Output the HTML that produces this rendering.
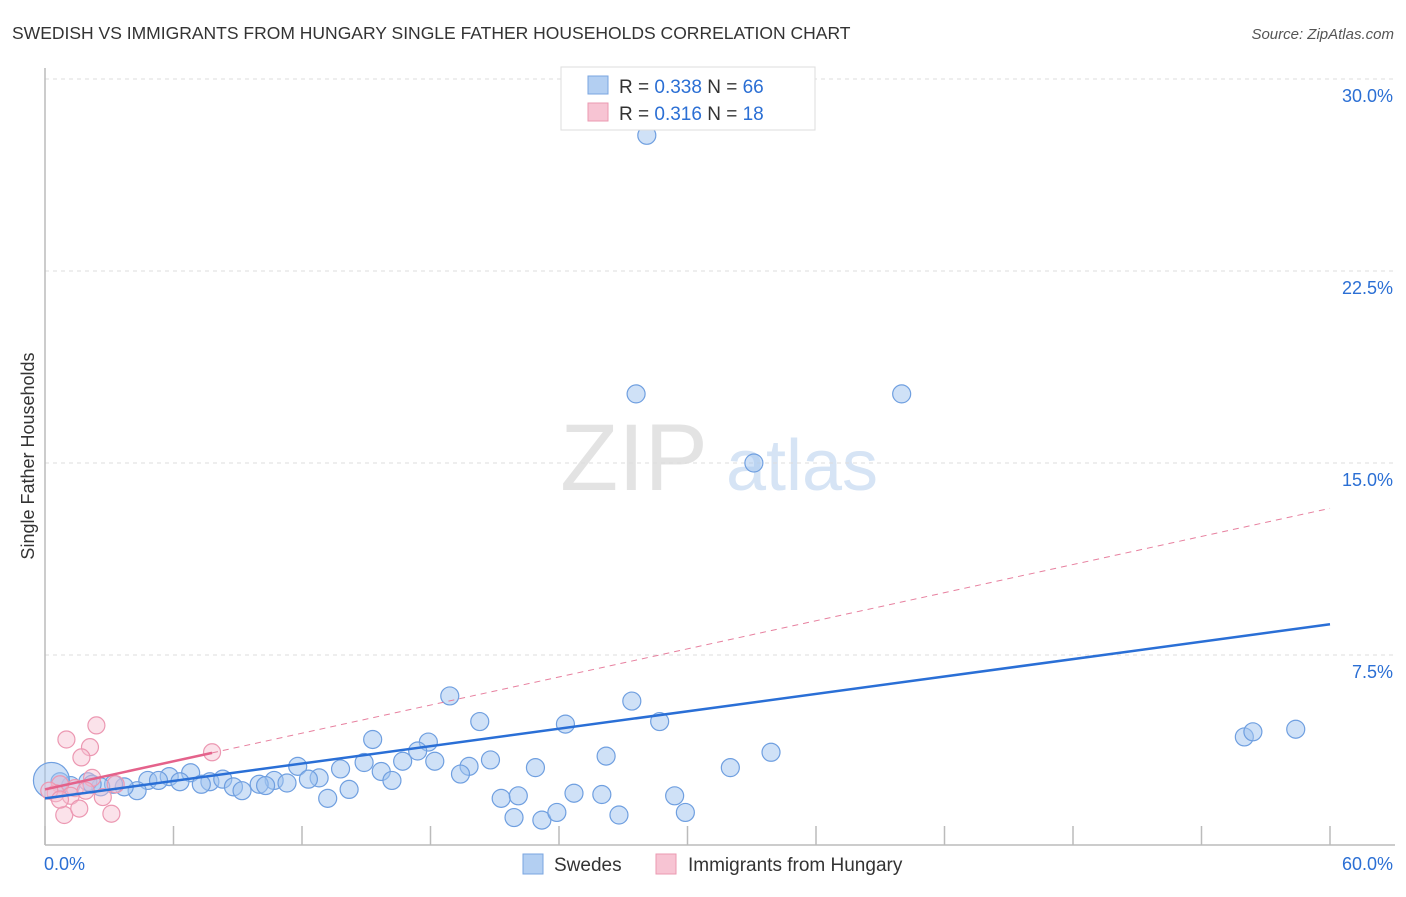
<!DOCTYPE html>
<html><head><meta charset="utf-8"><style>
body{margin:0;background:#fff;font-family:"Liberation Sans",sans-serif}
svg text{font-family:"Liberation Sans",sans-serif}
</style></head><body>
<svg width="1406" height="892" xmlns="http://www.w3.org/2000/svg">
<text x="12" y="39" font-size="17.5" fill="#333">SWEDISH VS IMMIGRANTS FROM HUNGARY SINGLE FATHER HOUSEHOLDS CORRELATION CHART</text>
<text x="1394" y="39" font-size="15" fill="#555" font-style="italic" text-anchor="end">Source: ZipAtlas.com</text>
<text x="34" y="456" font-size="18" fill="#333" text-anchor="middle" transform="rotate(-90 34 456)">Single Father Households</text>
<g>
<text x="634" y="490" font-size="95" fill="#e3e3e3" font-family="Liberation Serif" text-anchor="middle">ZIP</text>
<text x="802" y="490" font-size="72" fill="#d6e4f5" text-anchor="middle">atlas</text>
</g>
<g id="grid"></g>
<g id="axes"></g>
<g id="marks"></g>
<g>
<rect x="561" y="67" width="254" height="63" fill="#fff" stroke="#ddd"/>
<rect x="588" y="76" width="20" height="18" fill="#b3cff2" stroke="#7aa5e0"/>
<rect x="588" y="103" width="20" height="18" fill="#f7c4d3" stroke="#eb9ab2"/>
<text x="619" y="93" font-size="19" fill="#333">R = <tspan fill="#2b6fd4">0.338</tspan>   N = <tspan fill="#2b6fd4">66</tspan></text>
<text x="619" y="120" font-size="19" fill="#333">R = <tspan fill="#2b6fd4"> 0.316</tspan>   N = <tspan fill="#2b6fd4"> 18</tspan></text>
</g>
<g>
<rect x="523" y="854" width="20" height="20" fill="#b3cff2" stroke="#7aa5e0"/>
<text x="554" y="871" font-size="19" fill="#333">Swedes</text>
<rect x="656" y="854" width="20" height="20" fill="#f7c4d3" stroke="#eb9ab2"/>
<text x="688" y="871" font-size="19" fill="#333">Immigrants from Hungary</text>
</g>
</svg>
<script>
const yTicks=[7.5,15,22.5,30];
const yTickLabels=["7.5%","15.0%","22.5%","30.0%"];
const xTicks=[0,6,12,18,24,30,36,42,48,54,60];
const swedesX=[28.1,27.6,40.0,33.1,18.9,20.3,27.4,24.3,28.7,56.0,56.4,58.4,15.3,17.9,17.4,20.8,18.2,19.8,16.7,14.9,11.8,26.2,33.9,32.0,22.9,13.8,15.7,19.4,16.2,12.8,12.3,10.7,10.0,6.8,5.8,4.8,5.3,6.3,7.7,8.3,7.3,8.8,9.2,10.3,11.3,14.2,13.2,21.3,22.1,24.7,26.0,29.4,21.9,23.2,23.9,26.8,29.9,4.3,3.7,3.2,2.6,2.0,1.2,0.7,0.3,2.2];
const swedesY=[27.8,17.7,17.7,15.0,5.9,4.9,5.7,4.8,4.9,4.3,4.5,4.6,4.2,4.1,3.75,3.4,3.35,3.15,3.35,3.3,3.15,3.55,3.7,3.1,3.1,3.05,2.95,2.85,2.6,2.7,2.65,2.6,2.45,2.9,2.75,2.6,2.6,2.55,2.55,2.65,2.45,2.35,2.2,2.4,2.5,2.25,1.9,1.9,2.0,2.1,2.05,2.0,1.15,1.05,1.35,1.25,1.35,2.2,2.35,2.45,2.35,2.55,2.4,2.55,2.6,2.45];
const hungX=[2.4,1.0,2.1,1.7,7.8,2.2,3.3,1.4,0.7,0.5,1.2,2.7,0.9,1.6,3.1,0.2,1.9,0.7];
const hungY=[4.75,4.2,3.9,3.5,3.7,2.7,2.45,2.3,2.45,2.1,2.0,1.95,1.25,1.5,1.3,2.2,2.2,1.85];
const swedesTrend=[1.9,8.7];
const hungTrend=[2.25,0.183];
const NS="http://www.w3.org/2000/svg";
const xs=v=>45+v*(1285/60);
const ys=v=>847-v*25.6;
function mk(tag,attrs,parent){const e=document.createElementNS(NS,tag);for(const k in attrs)e.setAttribute(k,attrs[k]);document.getElementById(parent).appendChild(e);return e;}
yTicks.forEach((t,i)=>{
 const l=mk('line',{x1:45,x2:1395,y1:ys(t),y2:ys(t),stroke:'#ddd','stroke-dasharray':'4 4'},'grid');
 
 
 const tx=mk('text',{x:1393,y:ys(t)+23,'font-size':18,fill:'#2b6fd4','text-anchor':'end'},'grid');
 tx.textContent=yTickLabels[i];
 
 
});
const xa=mk('line',{x1:45,x2:1395,y1:845,y2:845,stroke:'#bbb','stroke-width':1.5},'axes');


const ya=mk('line',{x1:45,x2:45,y1:68,y2:845,stroke:'#bbb','stroke-width':1.5},'axes');


xTicks.forEach(t=>{
 const l=mk('line',{x1:xs(t),x2:xs(t),y1:826,y2:845,stroke:'#bbb','stroke-width':1.5},'axes');
 
 
});
const x0=mk('text',{x:44,y:870,'font-size':18,fill:'#2b6fd4'},'axes');x0.textContent='0.0%';


const x1=mk('text',{x:1393,y:870,'font-size':18,fill:'#2b6fd4','text-anchor':'end'},'axes');x1.textContent='60.0%';


swedesX.forEach((v,i)=>{
 const c=mk('circle',{cx:xs(v),cy:ys(swedesY[i]),r:(i==64?18:9),fill:'rgba(160,196,240,0.5)',stroke:'#6f9fe0','stroke-width':1.2},'marks');
 
 
});
hungX.forEach((v,i)=>{
 const c=mk('circle',{cx:xs(v),cy:ys(hungY[i]),r:8.5,fill:'rgba(247,190,208,0.45)',stroke:'#ec98b2','stroke-width':1.2},'marks');
 
 
});
const bt=mk('line',{x1:xs(0),y1:ys(swedesTrend[0]),x2:xs(60),y2:ys(swedesTrend[1]),stroke:'#2a6fd6','stroke-width':2.5},'marks');


const hx=Math.max(...hungX);
const pd=mk('line',{x1:xs(hx),y1:ys(hungTrend[0]+hungTrend[1]*hx),x2:xs(60),y2:ys(hungTrend[0]+hungTrend[1]*60),stroke:'#e7809f','stroke-width':1,'stroke-dasharray':'6 5'},'marks');


const pt=mk('line',{x1:xs(0),y1:ys(hungTrend[0]),x2:xs(hx),y2:ys(hungTrend[0]+hungTrend[1]*hx),stroke:'#e4628b','stroke-width':2.5},'marks');


</script>
</body></html>
